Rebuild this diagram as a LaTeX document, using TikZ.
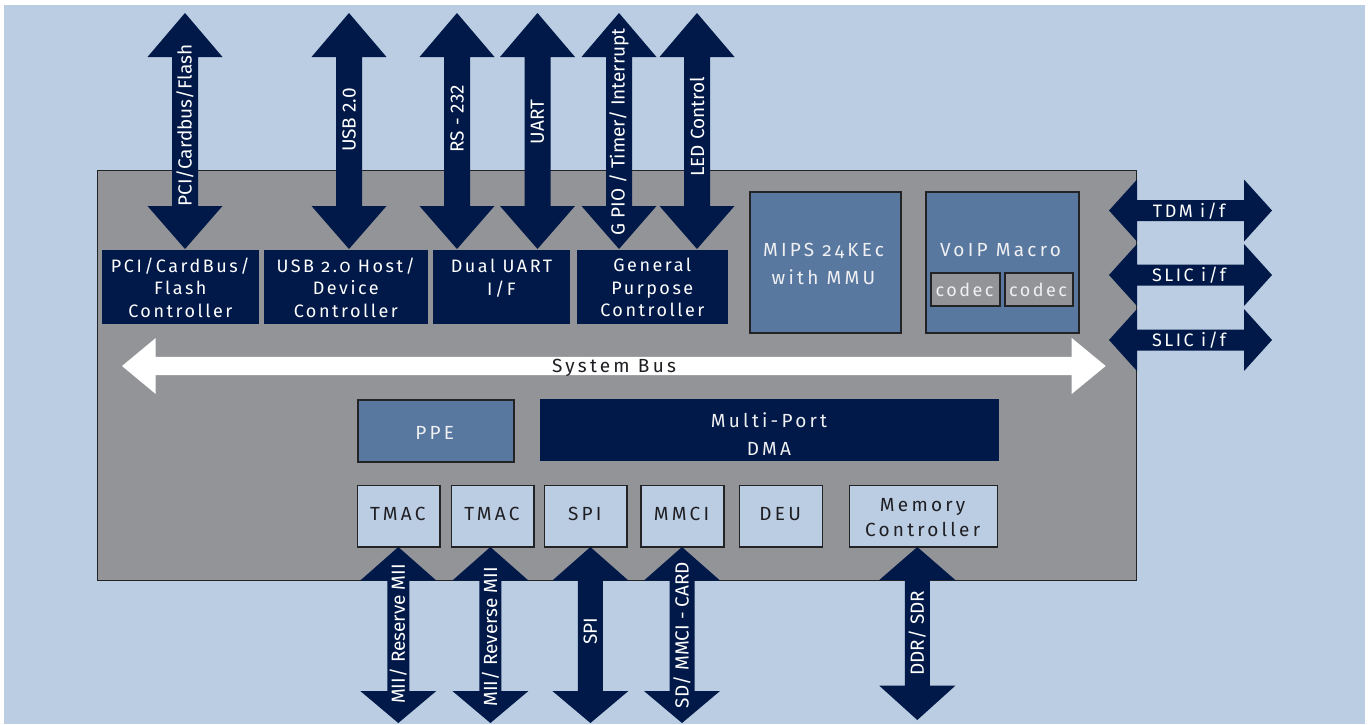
\documentclass[tikz,border=0pt]{standalone}
\usepackage{fontspec}
\setmainfont{Fira Sans}
\newfontfamily\lblfont{Fira Sans}
\newfontfamily\blkfont{Fira Sans}[Numbers=OldStyle,LetterSpace=14]
\newfontfamily\blkfontw{Fira Sans}[Numbers=OldStyle,LetterSpace=17]
\definecolor{bgblue}{RGB}{187,205,226}
\definecolor{chipgray}{RGB}{147,148,152}
\definecolor{navy}{RGB}{0,25,72}
\definecolor{steel}{RGB}{88,120,160}
\definecolor{edge}{RGB}{35,35,38}
\definecolor{dtext}{RGB}{30,30,35}
\definecolor{ltext}{RGB}{240,240,242}
% vertical double block arrow: x, ytip1, ybase1, ybase2, ytip2, headhalf, shafthalf
\newcommand\vdarr[7]{%
  \fill[navy] ({#1},{#2}) -- ({#1+#6},{#3}) -- ({#1+#7},{#3}) -- ({#1+#7},{#4}) -- ({#1+#6},{#4}) -- ({#1},{#5}) -- ({#1-#6},{#4}) -- ({#1-#7},{#4}) -- ({#1-#7},{#3}) -- ({#1-#6},{#3}) -- cycle;}
% horizontal double block arrow: y, xtip1, xbase1, xbase2, xtip2, headhalf, shafthalf, colour
\newcommand\hdarr[8]{%
  \fill[#8] ({#2},{#1}) -- ({#3},{#1-#6}) -- ({#3},{#1-#7}) -- ({#4},{#1-#7}) -- ({#4},{#1-#6}) -- ({#5},{#1}) -- ({#4},{#1+#6}) -- ({#4},{#1+#7}) -- ({#3},{#1+#7}) -- ({#3},{#1+#6}) -- cycle;}
\tikzset{
  navyblk/.style={fill=navy, inner sep=0, anchor=north west},
  steelblk/.style={fill=steel, draw=edge, line width=2pt, inner sep=0, anchor=north west},
  lightblk/.style={fill=bgblue, draw=edge, line width=1.5pt, inner sep=0, anchor=north west},
  codecblk/.style={fill=chipgray, draw=edge, line width=1.5pt, inner sep=0, anchor=north west},
  wtxt/.style={text=white, font=\blkfont\fontsize{18}{22.5}\selectfont, align=center, inner sep=0, anchor=base},
  ltxt/.style={text=ltext, font=\blkfontw\fontsize{19}{27.3}\selectfont, align=center, inner sep=0, anchor=base},
  dtxt/.style={text=dtext, font=\blkfontw\fontsize{19}{24.3}\selectfont, align=center, inner sep=0, anchor=base},
  albl/.style={text=white, font=\lblfont\fontsize{19}{22}\selectfont, inner sep=0, rotate=90},
  hlbl/.style={text=white, font=\blkfont\fontsize{18}{20}\selectfont, inner sep=0, anchor=base},
}
\begin{document}
\begin{tikzpicture}[x=1pt,y=-1pt]
\useasboundingbox (0,0) rectangle (1371,724);
\fill[white] (0,0) rectangle (1371,724);
\fill[bgblue] (4,5) rectangle (1365,724);
% chip
\node[fill=chipgray, draw=edge, line width=1pt, inner sep=0, anchor=north west, minimum width=1039pt, minimum height=410pt] (chip) at (97,170) {};
% top blocks
\node[navyblk, minimum width=156.7pt, minimum height=74pt] (pci) at (102,250) {};
\node[navyblk, minimum width=163.7pt, minimum height=74pt] (usb) at (264,250) {};
\node[navyblk, minimum width=137pt, minimum height=74pt] (duart) at (433,250) {};
\node[navyblk, minimum width=150.7pt, minimum height=74pt] (gpc) at (577,250) {};
\node[wtxt] (pcit) at (180.3,317) {PCI/CardBus/\\Flash\\Controller};
\node[wtxt] (usbt) at (345.8,317) {USB 2.0 Host/\\Device\\Controller};
\node[wtxt] (duartt) at (501.5,295) {Dual UART\\I/F};
\node[wtxt] (gpct) at (652.3,316.5) {General\\Purpose\\Controller};
% MIPS and VoIP
\node[steelblk, minimum width=151pt, minimum height=141pt] (mips) at (749,191) {};
\node[ltxt] (mipst) at (823.5,284) {MIPS 24KEc\\with MMU};
\node[steelblk, minimum width=153.3pt, minimum height=141pt] (voip) at (924.7,191) {};
\node[ltxt] (voipt) at (1000.5,256.7) {VoIP Macro};
\node[codecblk, minimum width=69pt, minimum height=33pt] (codec1) at (930,272) {};
\node[codecblk, minimum width=68pt, minimum height=33pt] (codec2) at (1004,272) {};
\node[ltxt, font=\blkfont\fontsize{18}{22}\selectfont] at (964.5,296.7) {codec};
\node[ltxt, font=\blkfont\fontsize{18}{22}\selectfont] at (1038,296.7) {codec};
% system bus
\hdarr{366}{122}{155.7}{1071.7}{1105.7}{28}{9.2}{white}
\node[dtxt] (bus) at (614,372) {System Bus};
% PPE and DMA
\node[steelblk, minimum width=156.5pt, minimum height=61.7pt] (ppe) at (356.5,399) {};
\node[ltxt] at (434.7,439.3) {PPE};
\node[navyblk, minimum width=458.5pt, minimum height=61.7pt] (dma) at (540,399) {};
\node[ltxt, font=\blkfontw\fontsize{19}{27.7}\selectfont] at (769,455) {Multi-Port\\DMA};
% lower light blocks
\node[lightblk, minimum width=82.5pt, minimum height=61.3pt] (tmac1) at (356.5,484.7) {};
\node[lightblk, minimum width=82.3pt, minimum height=61.3pt] (tmac2) at (450.7,484.7) {};
\node[lightblk, minimum width=82.4pt, minimum height=61.3pt] (spi) at (543.6,484.7) {};
\node[lightblk, minimum width=83pt, minimum height=61.3pt] (mmci) at (640,484.7) {};
\node[lightblk, minimum width=83pt, minimum height=61.3pt] (deu) at (738.7,484.7) {};
\node[lightblk, minimum width=148.2pt, minimum height=61.3pt] (memc) at (848.5,484.7) {};
\node[dtxt] at (397.8,520) {TMAC};
\node[dtxt] at (491.9,520) {TMAC};
\node[dtxt] at (584.8,520) {SPI};
\node[dtxt] at (681.5,520) {MMCI};
\node[dtxt] at (780.2,520) {DEU};
\node[dtxt] at (922.6,536) {Memory\\Controller};
% top arrows
\vdarr{185}{13}{57}{206}{249}{37.5}{13}
\vdarr{349}{13}{57}{206}{249}{37.5}{13}
\vdarr{457}{13}{57}{206}{249}{37.5}{13}
\vdarr{537.5}{13}{57}{206}{249}{37.5}{13}
\vdarr{619}{13}{57}{206}{249}{37.5}{13}
\vdarr{697}{13}{57}{206}{249}{37.5}{13}
\node[albl] (a1) at (185,125.5) {PCI/Cardbus/Flash};
\node[albl] (a2) at (349,120) {USB 2.0};
\node[albl] (a3) at (457,119) {RS - 232};
\node[albl] (a4) at (537.5,122) {UART};
\node[albl] (a5) at (619,132) {G PIO / Timer/ Interrupt};
\node[albl] (a6) at (697,127) {LED Control};
% right arrows
\hdarr{210.5}{1109}{1137}{1244}{1272}{31}{10.5}{navy}
\hdarr{275}{1109}{1137}{1244}{1272}{31}{10.5}{navy}
\hdarr{340}{1109}{1137}{1244}{1272}{31}{10.5}{navy}
\node[hlbl] (tdm) at (1189,217.3) {TDM i/f};
\node[hlbl] (slic1) at (1189,281.7) {SLIC i/f};
\node[hlbl] (slic2) at (1189,346.7) {SLIC i/f};
% bottom arrows
\vdarr{398.3}{547}{580.5}{691}{723}{38}{11}
\vdarr{490.4}{547}{580.5}{691}{723}{38}{11}
\vdarr{590.4}{547}{580.5}{691}{723}{38}{12.5}
\vdarr{682}{547}{580.5}{691}{723}{38}{12.5}
\vdarr{917.3}{547}{580}{685.7}{720}{38}{12.5}
\node[albl] (b1) at (398.3,634) {MII/ Reserve MII};
\node[albl] (b2) at (490.4,637) {MII/ Reverse MII};
\node[albl] (b3) at (590.4,631) {SPI};
\node[albl] (b4) at (682,635) {SD/ MMCI - CARD};
\node[albl] (b5) at (917.3,633) {DDR/ SDR};
\end{tikzpicture}
\end{document}
